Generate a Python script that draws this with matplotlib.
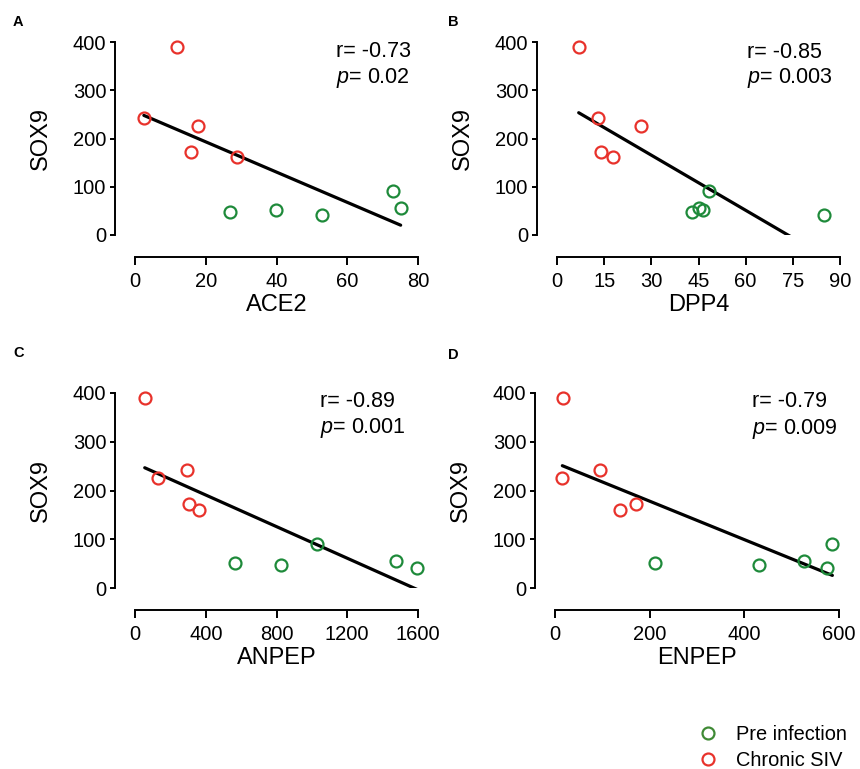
import numpy as np
import matplotlib
matplotlib.use("Agg")
import matplotlib.pyplot as plt
from matplotlib.lines import Line2D

plt.rcParams['font.family'] = ['Liberation Sans', 'DejaVu Sans']
plt.rcParams['mathtext.fontset'] = 'custom'
plt.rcParams['mathtext.rm'] = 'Liberation Sans'
plt.rcParams['mathtext.it'] = 'Liberation Sans:italic'

# SOX9 per animal, same animals in every panel
sox9_chronic = [390, 243, 226, 172, 161]
sox9_pre = [48, 52, 41, 91, 55]

# receptor expression, same animal order as above
ace2_chronic = [11.8, 2.5, 17.9, 15.7, 28.7]
ace2_pre = [26.8, 39.8, 52.9, 72.9, 75.1]
dpp4_chronic = [6.9, 13.0, 26.8, 14.0, 17.8]
dpp4_pre = [42.9, 46.3, 84.9, 48.2, 45.3]
anpep_chronic = [55, 296, 131, 306, 362]
anpep_pre = [824, 565, 1595, 1031, 1478]
enpep_chronic = [17.6, 95, 15.5, 172, 137]
enpep_pre = [432, 212, 574, 586, 525]

panel_letters = ['A', 'B', 'C', 'D']
gene_names = ['ACE2', 'DPP4', 'ANPEP', 'ENPEP']
r_labels = ['-0.73', '-0.85', '-0.89', '-0.79']
p_labels = ['0.02', '0.003', '0.001', '0.009']
x_ticks = [[0, 20, 40, 60, 80], [0, 15, 30, 45, 60, 75, 90],
           [0, 400, 800, 1200, 1600], [0, 200, 400, 600]]
y_ticks = [0, 100, 200, 300, 400]

red = '#e8322b'
green = '#1e8a3a'

W, H = 860, 769
fig = plt.figure(figsize=(W / 100, H / 100), dpi=100)

# axes boxes in pixels: left, right, y of 0, y of 400
boxes = [(135, 418, 235, 42), (557, 840, 235, 42),
         (135, 418, 588, 393), (555, 839, 588, 393)]
# stats text: x, baseline of r line, baseline of p line (pixels)
text_pos = [(336, 57, 83), (747, 58, 83), (320, 407, 433), (752, 407, 434)]
letter_pos = [(13, 22), (448, 22), (13, 353), (448, 355)]

xs_chronic = [ace2_chronic, dpp4_chronic, anpep_chronic, enpep_chronic]
xs_pre = [ace2_pre, dpp4_pre, anpep_pre, enpep_pre]

for i in range(4):
    l, r, y0, y4 = boxes[i]
    ax = fig.add_axes([l / W, 1 - y0 / H, (r - l) / W, (y0 - y4) / H])
    xt = x_ticks[i]
    ax.set_xlim(xt[0], xt[-1])
    ax.set_ylim(0, 400)

    xc = np.array(xs_chronic[i], dtype=float)
    xp = np.array(xs_pre[i], dtype=float)
    x_all = np.concatenate([xc, xp])
    y_all = np.array(sox9_chronic + sox9_pre, dtype=float)

    # least squares fit across both groups
    slope, icpt = np.polyfit(x_all, y_all, 1)
    fx = np.array([x_all.min(), x_all.max()])
    ax.plot(fx, slope * fx + icpt, color='black', lw=2.3, solid_capstyle='round', zorder=2)

    ax.plot(xc, sox9_chronic, 'o', mfc='none', mec=red, mew=1.6, ms=8.6, clip_on=False, zorder=3)
    ax.plot(xp, sox9_pre, 'o', mfc='none', mec=green, mew=1.6, ms=8.6, clip_on=False, zorder=3)

    for s in ['top', 'right']:
        ax.spines[s].set_visible(False)
    ax.spines['left'].set_position(('outward', 14.4))
    ax.spines['bottom'].set_position(('outward', 15.8))
    ax.spines['left'].set_linewidth(1.4)
    ax.spines['bottom'].set_linewidth(1.4)
    ax.spines['left'].set_bounds(0, 400)
    ax.spines['bottom'].set_bounds(xt[0], xt[-1])
    ax.set_xticks(xt)
    ax.set_yticks(y_ticks)
    ax.tick_params(width=1.4, labelsize=14.5)
    ax.tick_params(axis='x', length=5.8, pad=5)
    ax.tick_params(axis='y', length=3.8, pad=2.5)
    ax.set_facecolor('none')

    ax.set_xlabel(gene_names[i], fontsize=17, labelpad=2)
    ax.set_ylabel('SOX9', fontsize=17, labelpad=15)

    tx, ry, py = text_pos[i]
    fig.text(tx / W, 1 - ry / H, 'r= ' + r_labels[i], fontsize=15.5, va='baseline', ha='left')
    fig.text(tx / W, 1 - py / H, '$p$= ' + p_labels[i], fontsize=15.5, va='baseline', ha='left')

    lx, ly = letter_pos[i]
    fig.text(lx / W, 1 - ly / H, panel_letters[i], fontsize=10.5,
             fontweight='bold', va='center', ha='left')

handles = [Line2D([], [], ls='none', marker='o', mfc='none', mec='#3f8a35', mew=1.6, ms=8.6),
           Line2D([], [], ls='none', marker='o', mfc='none', mec=red, mew=1.6, ms=8.6)]
fig.legend(handles, ['Pre infection', 'Chronic SIV'], loc='upper left',
           bbox_to_anchor=(688 / W, 1 - 715 / H), frameon=False, fontsize=14.4,
           handlelength=1.0, handletextpad=0.9, labelspacing=0.35, borderpad=0)

fig.savefig('out.png', dpi=100)
